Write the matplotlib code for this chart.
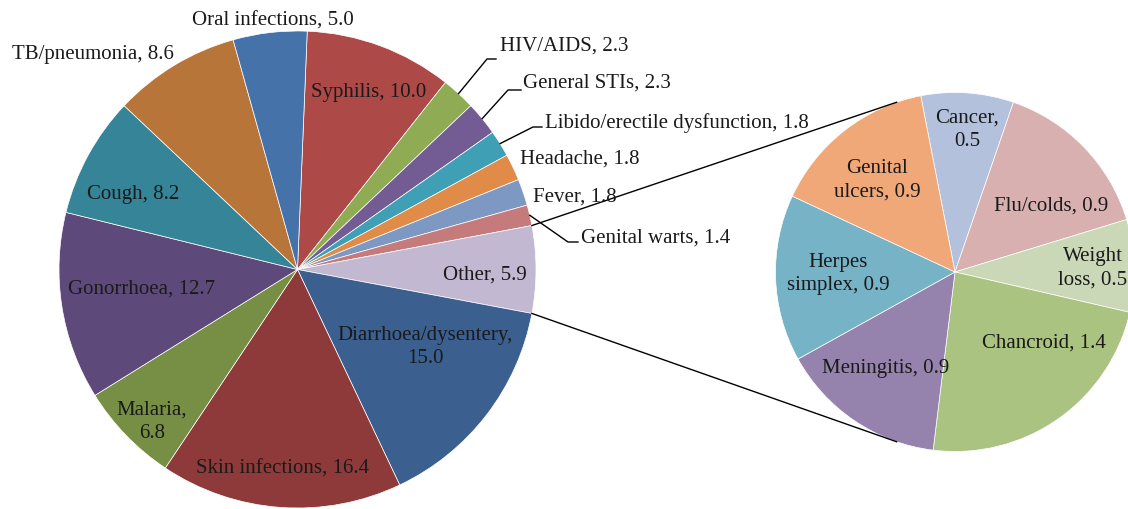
import numpy as np
import matplotlib.pyplot as plt

plt.rcParams['font.family'] = ['Liberation Serif', 'DejaVu Serif']

# main pie, clockwise from 12 o'clock
main_labels = ['Syphilis', 'HIV/AIDS', 'General STIs', 'Libido/erectile dysfunction',
               'Headache', 'Fever', 'Genital warts', 'Other', 'Diarrhoea/dysentery',
               'Skin infections', 'Malaria', 'Gonorrhoea', 'Cough', 'TB/pneumonia',
               'Oral infections']
main_values = [10.0, 2.3, 2.3, 1.8, 1.8, 1.8, 1.4, 5.9, 15.0, 16.4, 6.8, 12.7, 8.2, 8.6, 5.0]
main_colors = ['#AD4A47', '#8FAC55', '#735B94', '#3FA0B5', '#E08B47', '#7D98C3',
               '#C57A7B', '#C2B8D2', '#3B5F8F', '#8E3A3A', '#778F44', '#5E4A7A',
               '#358497', '#B8753A', '#4672AA']

# breakdown of "Other"
other_labels = ['Cancer', 'Flu/colds', 'Weight loss', 'Chancroid', 'Meningitis',
                'Herpes simplex', 'Genital ulcers']
other_values = [0.5, 0.9, 0.5, 1.4, 0.9, 0.9, 0.9]
other_colors = ['#B3C1DC', '#D9B0B0', '#CBD8B8', '#ABC381', '#9683AD', '#76B3C6', '#F0A878']

W, H = 1128, 510

# label placement in pixels from top-left: (x, y, ha, line break)
main_pos = {
    'Syphilis': (369, 90, 'center', None),
    'HIV/AIDS': (500, 44, 'left', None),
    'General STIs': (523, 81, 'left', None),
    'Libido/erectile dysfunction': (545, 121, 'left', None),
    'Headache': (520, 157, 'left', None),
    'Fever': (533, 195, 'left', None),
    'Genital warts': (581, 236, 'left', None),
    'Other': (485, 273, 'center', None),
    'Diarrhoea/dysentery': (425, 345, 'center', 'comma'),
    'Skin infections': (283, 467, 'center', None),
    'Malaria': (152, 420, 'center', 'comma'),
    'Gonorrhoea': (142, 287, 'center', None),
    'Cough': (133, 192, 'center', None),
    'TB/pneumonia': (93, 52, 'center', None),
    'Oral infections': (273, 19, 'center', None),
}
other_pos = {
    'Cancer': (967, 128, 'center', 'comma'),
    'Flu/colds': (1051, 204, 'center', None),
    'Weight loss': (1093, 266, 'center', 'space'),
    'Chancroid': (1044, 341, 'center', None),
    'Meningitis': (886, 367, 'center', None),
    'Herpes simplex': (838, 272, 'center', 'space'),
    'Genital ulcers': (877, 178, 'center', 'space'),
}
# leader line elbow and end points (pixels)
leaders = {
    'HIV/AIDS': [(487, 60), (496, 60)],
    'General STIs': [(508, 91), (521, 91)],
    'Libido/erectile dysfunction': [(533, 128), (542, 128)],
    'Genital warts': [(568, 243), (578, 243)],
}


def px(x, y):
    return x, H - y


def label_text(name, value, brk):
    if brk == 'comma':
        return '%s,\n%.1f' % (name, value)
    if brk == 'space':
        first, rest = name.split(' ', 1)
        return '%s\n%s, %.1f' % (first, rest, value)
    return '%s, %.1f' % (name, value)


def put_label(x, y, s, ha):
    # small nudge down: matplotlib's centre includes the descender
    ax.text(*px(x, y + 2), s, ha=ha, va='center', fontsize=15, color='#1a1a1a',
            linespacing=1.3)


fig = plt.figure(figsize=(W / 100, H / 100), dpi=100)
ax = fig.add_axes([0, 0, 1, 1])

c1, r1 = px(297.5, 270.5), 238.5
c2, r2 = px(955, 273), 179.5

idx = main_labels.index('Other')
start = (sum(main_values[:idx]) + main_values[idx] / 2) / sum(main_values) * 360
w1, _ = ax.pie(main_values, colors=main_colors, startangle=start, counterclock=False,
               center=c1, radius=r1, wedgeprops=dict(edgecolor='white', linewidth=0.5))
w2, _ = ax.pie(other_values, colors=other_colors, startangle=101, counterclock=False,
               center=c2, radius=r2, wedgeprops=dict(edgecolor='white', linewidth=0.5))

# connector lines between the "Other" slice and the second pie
wo = w1[idx]
for a1, a2 in [(wo.theta2, 109), (wo.theta1, -109)]:
    p1 = (c1[0] + r1 * np.cos(np.radians(a1)), c1[1] + r1 * np.sin(np.radians(a1)))
    p2 = (c2[0] + r2 * np.cos(np.radians(a2)), c2[1] + r2 * np.sin(np.radians(a2)))
    ax.plot([p1[0], p2[0]], [p1[1], p2[1]], color='black', lw=1)

for w, name, val in zip(w1, main_labels, main_values):
    x, y, ha, brk = main_pos[name]
    put_label(x, y, label_text(name, val, brk), ha)
    if name in leaders:
        mid = np.radians((w.theta1 + w.theta2) / 2)
        pts = [(c1[0] + r1 * np.cos(mid), c1[1] + r1 * np.sin(mid))]
        pts += [px(*p) for p in leaders[name]]
        xs, ys = zip(*pts)
        ax.plot(xs, ys, color='black', lw=1)

for name, val in zip(other_labels, other_values):
    x, y, ha, brk = other_pos[name]
    put_label(x, y, label_text(name, val, brk), ha)

ax.set_xlim(0, W)
ax.set_ylim(0, H)
ax.set_aspect('equal')
ax.axis('off')

fig.savefig('out.png', dpi=100)
